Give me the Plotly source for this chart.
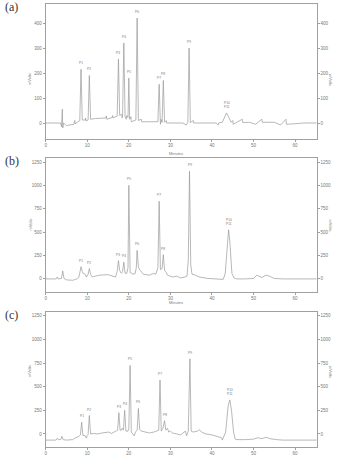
import plotly.graph_objects as go

# ---------------- data ----------------
# Panel (a): retention time (min) and signal (mVolts)
ta = [0, 3.6, 3.8, 4.0, 4.1, 4.3, 5.0, 6.8, 7.0, 7.1, 8.2, 8.5, 8.8, 9.5, 9.6, 9.7,
      10.2, 10.5, 10.8, 12.0, 14.5, 14.6, 14.7, 16.0, 16.1, 16.2, 17.2, 17.5, 17.8,
      18.3, 18.4, 18.5, 18.8, 19.1, 19.4, 19.5, 19.8, 20.0, 20.2, 20.5, 20.6, 21.7,
      22.0, 22.3, 23.0, 23.1, 25.0, 27.0, 27.3, 27.6, 27.8, 27.9, 28.0, 28.3, 28.6,
      29.0, 29.1, 33.0, 33.8, 34.2, 34.5, 34.8, 35.5, 35.6, 41.0, 41.5, 41.6, 42.5,
      43.0, 43.5, 44.0, 44.6, 45.0, 45.1, 47.3, 47.4, 49.0, 50.5, 52.0, 52.1, 55.0,
      56.5, 57.8, 57.9, 60.0, 62.0, 65.2]
ya = [0, 0, -15, 55, -20, 0, -10, -5, 10, -3, 10, 215, 12, 12, 20, 8,
      12, 190, 15, 18, 20, 28, 15, 22, 30, 20, 28, 255, 30,
      35, 20, 30, 320, 25, 15, 30, 22, 180, 15, 25, 5, 12,
      420, 10, 15, 5, 5, 5, 155, -5, 15, 3, 3, 170, 3,
      10, 0, 0, -8, 2, 300, 2, 10, 0, 0, -8, 0, 3,
      25, 40, 25, 3, 10, -5, 15, 2, 3, -5, 15, 3, 3,
      -8, 15, -5, -3, 0, 0]

# Panel (b)
tb = [0, 2.5, 2.8, 3.0, 3.8, 4.1, 4.4, 5.0, 6.5, 7.5, 8.0, 8.5, 8.8, 9.0, 9.5, 9.8,
      10.2, 10.5, 10.8, 11.2, 12.0, 13.0, 15.0, 16.2, 16.8, 17.2, 17.5, 17.8, 18.2,
      18.5, 18.8, 19.1, 19.5, 19.8, 20.0, 20.3, 21.0, 21.5, 21.8, 22.0, 22.3, 22.6,
      23.5, 25.0, 26.0, 26.5, 27.0, 27.3, 27.6, 28.0, 28.3, 28.6, 29.0, 29.3, 30.5,
      31.5, 32.5, 33.5, 34.0, 34.3, 34.6, 34.9, 35.2, 36.0, 37.0, 39.0, 41.0, 42.5,
      42.7, 43.2, 43.7, 44.0, 44.3, 44.8, 45.3, 46.0, 48.0, 50.0, 50.8, 51.5, 52.0,
      53.0, 53.8, 55.0, 57.0, 65.2]
yb = [0, 0, 20, 0, 5, 85, 5, -10, -15, 0, 20, 130, 80, 60, 50, 20,
      50, 110, 50, 20, 30, 40, 45, 30, 20, 80, 195, 90, 60,
      80, 180, 60, 60, 120, 1000, 70, 50, 55, 120, 305, 130, 100,
      50, 40, 60, 50, 120, 830, 100, 110, 260, 90, 70, 40, 20,
      30, 10, 20, 30, 200, 1150, 150, 50, 40, 20, 5, 0, -10,
      -5, 60, 400, 525, 400, 60, 10, 0, 0, 5, 40, 30, 15,
      40, 30, 5, 0, 0]

# Panel (c)
tc = [0, 2.5, 2.8, 3.1, 3.7, 3.9, 4.2, 5.0, 6.5, 7.0, 8.0, 8.35, 8.65, 8.95, 9.5, 9.8,
      10.0, 10.2, 10.5, 10.8, 11.5, 12.5, 13.5, 14.5, 15.2, 15.8, 16.5, 17.3, 17.6,
      17.9, 18.2, 18.4, 18.7, 19.0, 19.3, 19.8, 20.0, 20.3, 20.6, 21.3, 21.6, 22.0,
      22.3, 22.6, 23.0, 24.0, 25.0, 26.0, 27.2, 27.5, 27.8, 28.2, 28.6, 28.9, 29.3,
      29.6, 30.0, 30.5, 31.5, 32.5, 33.3, 33.6, 33.9, 34.3, 34.7, 35.0, 35.5, 36.5,
      37.0, 37.5, 38.5, 40.0, 41.5, 42.3, 42.5, 42.7, 43.3, 43.9, 44.3, 44.7, 45.2,
      45.6, 46.0, 48.0, 50.0, 51.0, 52.0, 53.0, 54.0, 55.5, 57.0, 65.2]
yc = [-65, -65, -45, -62, -55, -25, -60, -65, -60, -45, -25, -10, 125, -15, -20, -45,
      -15, -5, 195, 0, 5, 0, 10, 15, 20, 5, 20, 40, 225,
      40, 40, 60, 40, 250, 30, 30, 60, 725, 20, -20, 20, 40,
      270, 50, 30, 20, 10, 20, 40, 570, 30, 60, 140, 40, 60,
      20, 30, 10, 0, -10, 20, 30, -20, 30, 795, 30, 20, 30,
      45, 20, 0, -10, -30, -40, -65, -40, 20, 300, 360, 250, 20,
      -55, -60, -60, -55, -40, -50, -35, -50, -60, -65, -65]

# peak labels
lab_a_t = [8.5, 10.5, 17.5, 18.8, 20.0, 22.0, 27.3, 28.3, 34.5, 43.5]
lab_a_y = [215, 190, 255, 320, 180, 420, 155, 170, 300, 40]
lab_b_t = [8.5, 10.5, 17.5, 18.8, 20.0, 22.0, 27.3, 28.3, 34.6, 44.0]
lab_b_y = [130, 110, 195, 180, 1000, 305, 830, 260, 1150, 525]
lab_c_t = [8.65, 10.5, 17.6, 19.0, 20.3, 22.3, 27.5, 28.6, 34.7, 44.3]
lab_c_y = [125, 195, 225, 250, 725, 270, 570, 140, 795, 360]
peak_names = ["P1", "P2", "P3", "P4", "P5", "P6", "P7", "P8", "P9", "P10<br>P11"]

ticks_a = [0, 100, 200, 300, 400]
ticks_bc = [0, 250, 500, 750, 1000, 1250]
xticks = [0, 10, 20, 30, 40, 50, 60]

W, H = 343, 457
def py(px):
    return 1 - px / H

xdom = [45.7 / W, 316.7 / W]
panels = [
    dict(t=ta, y=ya, lt=lab_a_t, ly=lab_a_y, rng=[-64, 476], ticks=ticks_a,
         top=4, bot=139, letter="(a)", minutes=True),
    dict(t=tb, y=yb, lt=lab_b_t, ly=lab_b_y, rng=[-140, 1293], ticks=ticks_bc,
         top=158, bot=292, letter="(b)", minutes=True),
    dict(t=tc, y=yc, lt=lab_c_t, ly=lab_c_y, rng=[-138, 1290], ticks=ticks_bc,
         top=312, bot=447, letter="(c)", minutes=False),
]

GRAY_LINE = "#999999"
AX = "#a0a0a0"
TXT = "#777777"

fig = go.Figure()
layout = dict(width=W, height=H, margin=dict(l=0, r=0, t=0, b=0),
              paper_bgcolor="white", plot_bgcolor="white", showlegend=False,
              font=dict(family="Liberation Sans", size=5, color=TXT))
annotations = []

for i, p in enumerate(panels):
    n = i + 1
    xa = "x" if n == 1 else f"x{n}"
    ya_ = "y" if n == 1 else f"y{n}"
    yr = f"y{n + 3}"
    dom = [py(p["bot"]), py(p["top"])]
    fig.add_trace(go.Scatter(x=p["t"], y=p["y"], mode="lines", xaxis=xa, yaxis=ya_,
                             line=dict(color=GRAY_LINE, width=0.7), hoverinfo="skip"))
    fig.add_trace(go.Scatter(x=[p["t"][0]], y=[p["y"][0]], mode="lines", xaxis=xa, yaxis=yr,
                             line=dict(color="rgba(0,0,0,0)", width=0), hoverinfo="skip"))
    axcommon = dict(showline=True, linecolor=AX, linewidth=1, showgrid=False, zeroline=False,
                    ticks="outside", ticklen=2, tickcolor=AX, tickwidth=0.6,
                    tickfont=dict(size=4.5, color=TXT))
    layout["xaxis" if n == 1 else f"xaxis{n}"] = dict(
        axcommon, domain=xdom, anchor=ya_, range=[0, 65.2], tickvals=xticks, mirror=True)
    layout["yaxis" if n == 1 else f"yaxis{n}"] = dict(
        axcommon, domain=dom, anchor=xa, range=p["rng"], tickvals=p["ticks"], mirror=True)
    layout[f"yaxis{n + 3}"] = dict(
        axcommon, domain=dom, anchor=xa, overlaying=ya_, side="right",
        range=p["rng"], tickvals=p["ticks"])
    # panel letter
    annotations.append(dict(text=p["letter"], xref="paper", yref="paper", x=3 / W,
                            y=py(p["top"] + 3), xanchor="left", yanchor="middle",
                            showarrow=False,
                            font=dict(family="Liberation Serif", size=12, color="#333333")))
    # y titles
    ymid = py((p["top"] + p["bot"]) / 2)
    annotations.append(dict(text="mVolts", xref="paper", yref="paper", x=25 / W, y=ymid,
                            textangle=-90, showarrow=False, font=dict(size=4, color=TXT)))
    annotations.append(dict(text="mVolts", xref="paper", yref="paper", x=335 / W, y=ymid,
                            textangle=90, showarrow=False, font=dict(size=4, color=TXT)))
    if p["minutes"]:
        annotations.append(dict(text="Minutes", xref="paper", yref="paper", x=176 / W,
                                y=py(p["bot"] + 10), showarrow=False,
                                font=dict(size=4, color=TXT)))
    for t, v, name in zip(p["lt"], p["ly"], peak_names):
        annotations.append(dict(text=name, xref=xa, yref=ya_, x=t, y=v, yanchor="bottom",
                                yshift=2, showarrow=False, font=dict(size=3.2, color=TXT)))

layout["annotations"] = annotations
fig.update_layout(**layout)
fig.write_html("out.html")
